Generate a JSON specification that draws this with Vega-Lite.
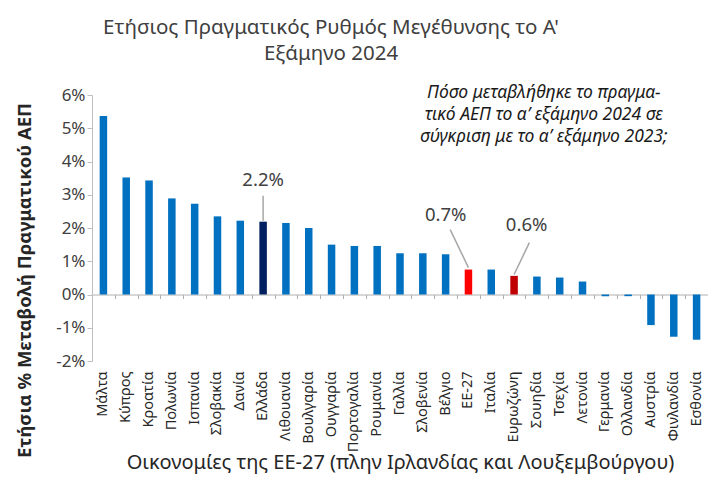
{
  "$schema": "https://vega.github.io/schema/vega-lite/v6.json",
  "width": 616,
  "height": 266,
  "autosize": {"type": "none"},
  "padding": {"left": 92, "top": 95, "right": 0, "bottom": 141},
  "background": "white",
  "config": {"font": "Noto Sans", "view": {"stroke": null}},
  "title": {
    "text": ["Ετήσιος Πραγματικός Ρυθμός Μεγέθυνσης το Α'", "Εξάμηνο 2024"],
    "fontSize": 20.5,
    "fontWeight": "normal",
    "color": "#404040",
    "anchor": "middle",
    "dx": -69,
    "offset": 19,
    "lineHeight": 26
  },
  "layer": [
    {
      "data": {"values": [
        {"country": "Μάλτα", "value": 5.37, "group": "other"},
        {"country": "Κύπρος", "value": 3.52, "group": "other"},
        {"country": "Κροατία", "value": 3.43, "group": "other"},
        {"country": "Πολωνία", "value": 2.89, "group": "other"},
        {"country": "Ισπανία", "value": 2.73, "group": "other"},
        {"country": "Σλοβακία", "value": 2.35, "group": "other"},
        {"country": "Δανία", "value": 2.22, "group": "other"},
        {"country": "Ελλάδα", "value": 2.19, "group": "Ελλάδα"},
        {"country": "Λιθουανία", "value": 2.15, "group": "other"},
        {"country": "Βουλγαρία", "value": 2.0, "group": "other"},
        {"country": "Ουγγαρία", "value": 1.5, "group": "other"},
        {"country": "Πορτογαλία", "value": 1.46, "group": "other"},
        {"country": "Ρουμανία", "value": 1.46, "group": "other"},
        {"country": "Γαλλία", "value": 1.24, "group": "other"},
        {"country": "Σλοβενία", "value": 1.24, "group": "other"},
        {"country": "Βέλγιο", "value": 1.21, "group": "other"},
        {"country": "ΕΕ-27", "value": 0.75, "group": "ΕΕ-27"},
        {"country": "Ιταλία", "value": 0.75, "group": "other"},
        {"country": "Ευρωζώνη", "value": 0.56, "group": "Ευρωζώνη"},
        {"country": "Σουηδία", "value": 0.54, "group": "other"},
        {"country": "Τσεχία", "value": 0.51, "group": "other"},
        {"country": "Λετονία", "value": 0.39, "group": "other"},
        {"country": "Γερμανία", "value": -0.05, "group": "other"},
        {"country": "Ολλανδία", "value": -0.05, "group": "other"},
        {"country": "Αυστρία", "value": -0.92, "group": "other"},
        {"country": "Φινλανδία", "value": -1.27, "group": "other"},
        {"country": "Εσθονία", "value": -1.36, "group": "other"}
      ]},
      "mark": {"type": "bar", "size": 7.5},
      "encoding": {
        "x": {
          "field": "country", "type": "nominal", "sort": null,
          "scale": {
            "domain": ["Μάλτα","Κύπρος","Κροατία","Πολωνία","Ισπανία","Σλοβακία","Δανία","Ελλάδα","Λιθουανία","Βουλγαρία","Ουγγαρία","Πορτογαλία","Ρουμανία","Γαλλία","Σλοβενία","Βέλγιο","ΕΕ-27","Ιταλία","Ευρωζώνη","Σουηδία","Τσεχία","Λετονία","Γερμανία","Ολλανδία","Αυστρία","Φινλανδία","Εσθονία"],
            "paddingInner": 0, "paddingOuter": 0
          },
          "axis": {
            "orient": "bottom",
            "labelAngle": -90, "labelAlign": "right", "labelBaseline": "middle",
            "labelFontSize": 14.5, "labelColor": "#262626", "labelPadding": 10,
            "ticks": false, "domain": false,
            "title": "Οικονομίες της ΕΕ-27 (πλην Ιρλανδίας και Λουξεμβούργου)",
            "titleFontSize": 20, "titleFontWeight": "normal", "titleColor": "#262626",
            "titleBaseline": "middle", "titleY": 101
          }
        },
        "y": {
          "field": "value", "type": "quantitative",
          "scale": {"domain": [-2, 6], "nice": false, "zero": false},
          "axis": {
            "values": [-2, -1, 0, 1, 2, 3, 4, 5, 6],
            "labelExpr": "datum.value + '%'",
            "labelOverlap": false,
            "labelFontSize": 17, "labelColor": "#404040",
            "grid": false,
            "domainColor": "#bfbfbf", "tickColor": "#bfbfbf", "tickSize": 5,
            "title": "Ετήσια % Μεταβολή Πραγματικού ΑΕΠ",
            "titleFontSize": 18.5, "titleFontWeight": "bold", "titleColor": "#262626",
            "titleBaseline": "middle", "titleX": -68, "titleY": 185, "titleAngle": -90
          }
        },
        "color": {
          "field": "group", "type": "nominal",
          "scale": {"domain": ["other", "Ελλάδα", "ΕΕ-27", "Ευρωζώνη"], "range": ["#0070C0", "#002060", "#FF0000", "#C00000"]},
          "legend": null
        }
      }
    },
    {
      "data": {"values": [
        {"country": "Μάλτα"}, {"country": "Εσθονία"}
      ]},
      "mark": {"type": "rule", "opacity": 0},
      "encoding": {
        "x": {
          "field": "country", "type": "nominal",
          "axis": {
            "orient": "bottom", "offset": -66.5,
            "labels": false, "title": null,
            "domain": true, "domainColor": "#b0b0b0", "domainWidth": 1,
            "ticks": true, "tickBand": "extent", "tickColor": "#b0b0b0", "tickSize": 4
          }
        },
        "y": {"datum": 0, "axis": null},
        "y2": {"datum": 0}
      }
    },
    {
      "data": {"values": [{"c": "Ελλάδα", "y1": 2.97, "y2": 2.22}]},
      "mark": {"type": "rule", "color": "#a6a6a6", "strokeWidth": 1.5},
      "encoding": {
        "x": {"field": "c", "type": "nominal", "axis": null},
        "y": {"field": "y1", "type": "quantitative", "axis": null},
        "y2": {"field": "y2"}
      }
    },
    {
      "data": {"values": [{"c1": "Βέλγιο", "c2": "ΕΕ-27", "y1": 1.95, "y2": 0.81}]},
      "mark": {"type": "rule", "color": "#a6a6a6", "strokeWidth": 1.5},
      "encoding": {
        "x": {"field": "c1", "type": "nominal", "bandPosition": 0.7, "axis": null},
        "x2": {"field": "c2", "bandPosition": 0.5},
        "y": {"field": "y1", "type": "quantitative", "axis": null},
        "y2": {"field": "y2"}
      }
    },
    {
      "data": {"values": [{"c1": "Σουηδία", "c2": "Ευρωζώνη", "y1": 1.56, "y2": 0.6}]},
      "mark": {"type": "rule", "color": "#a6a6a6", "strokeWidth": 1.5},
      "encoding": {
        "x": {"field": "c1", "type": "nominal", "bandPosition": 0.17, "axis": null},
        "x2": {"field": "c2", "bandPosition": 0.5},
        "y": {"field": "y1", "type": "quantitative", "axis": null},
        "y2": {"field": "y2"}
      }
    },
    {
      "data": {"values": [
        {"c": "Ελλάδα", "y": 3.43, "label": "2.2%"},
        {"c": "Βέλγιο", "y": 2.38, "label": "0.7%"}
      ]},
      "mark": {"type": "text", "fontSize": 18.5, "color": "#404040", "align": "center", "baseline": "middle"},
      "encoding": {
        "x": {"field": "c", "type": "nominal", "bandPosition": 0.5, "axis": null},
        "y": {"field": "y", "type": "quantitative", "axis": null},
        "text": {"field": "label"}
      }
    },
    {
      "data": {"values": [
        {"c": "Σουηδία", "y": 2.08, "label": "0.6%"}
      ]},
      "mark": {"type": "text", "fontSize": 18.5, "color": "#404040", "align": "center", "baseline": "middle"},
      "encoding": {
        "x": {"field": "c", "type": "nominal", "bandPosition": 0.05, "axis": null},
        "y": {"field": "y", "type": "quantitative", "axis": null},
        "text": {"field": "label"}
      }
    },
    {
      "data": {"values": [
        {"c": "Σουηδία", "y": 6.07, "note": "Πόσο μεταβλήθηκε το πραγμα-\nτικό ΑΕΠ το α’ εξάμηνο 2024 σε\nσύγκριση με το α’ εξάμηνο 2023;"}
      ]},
      "mark": {"type": "text", "fontSize": 17.5, "fontStyle": "italic", "color": "#1a1a1a", "align": "center", "baseline": "middle", "lineBreak": "\n", "lineHeight": 22, "clip": false},
      "encoding": {
        "x": {"field": "c", "type": "nominal", "bandPosition": 0.8, "axis": null},
        "y": {"field": "y", "type": "quantitative", "axis": null},
        "text": {"field": "note"}
      }
    }
  ],
  "resolve": {"axis": {"x": "independent", "y": "independent"}}
}
